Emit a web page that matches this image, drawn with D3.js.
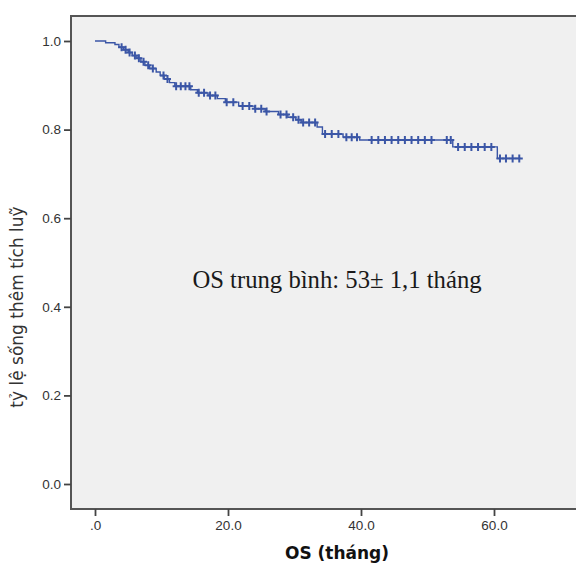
<!DOCTYPE html>
<html>
<head>
<meta charset="utf-8">
<script src="https://cdn.jsdelivr.net/npm/d3@7"></script>
<style>
  body { margin: 0; background: #fff; }
  svg { display: block; }
</style>
</head>
<body>
<svg id="chart"></svg>
<script>
// Kaplan-Meier steps (time in months, cumulative survival after the step)
const stepTimes = [0, 1.6, 3.0, 3.6, 4.3, 5.0, 5.6, 6.3, 6.9, 7.5, 8.2, 9.2, 9.8, 10.4, 11.2, 12.0,
  14.4, 15.4, 17.0, 18.4, 19.6, 21.6, 24.0, 25.6, 27.6, 29.0, 30.2, 31.0, 33.4, 34.2, 37.3, 39.8,
  53.8, 60.5];
const stepSurv = [1.0, 0.996, 0.992, 0.986, 0.98, 0.974, 0.967, 0.961, 0.953, 0.945, 0.938, 0.93,
  0.922, 0.914, 0.906, 0.898, 0.89, 0.883, 0.877, 0.87, 0.862, 0.853, 0.847, 0.841, 0.834, 0.828,
  0.822, 0.816, 0.806, 0.79, 0.783, 0.7765, 0.761, 0.735];
const endTime = 64.0;

// censored observations
const censorTimes = [4.0, 4.6, 5.2, 6.0, 6.6, 7.3, 8.0, 8.7, 10.3, 10.9, 12.2, 12.9, 13.6, 14.2,
  15.6, 16.4, 17.3, 18.1, 19.8, 20.8, 22.2, 23.2, 24.1, 25.0, 25.8, 27.9, 28.8, 29.8, 30.6, 31.3,
  32.2, 33.1, 34.6, 35.6, 36.6, 37.8, 38.6, 39.4, 41.6, 42.6, 43.6, 44.6, 45.6, 46.6, 47.6, 48.6,
  49.6, 50.6, 52.9, 53.5, 54.6, 55.6, 56.6, 57.6, 58.6, 59.6, 60.9, 61.8, 62.8, 63.8];

const xTicks = [0, 20, 40, 60];
const xTickLabels = [".0", "20.0", "40.0", "60.0"];
const yTicks = [0, 0.2, 0.4, 0.6, 0.8, 1.0];
const yTickLabels = ["0.0", "0.2", "0.4", "0.6", "0.8", "1.0"];

const xTitle = "OS (tháng)";
const yTitle = "tỷ lệ sống thêm tích luỹ";
const note = "OS trung bình: 53± 1,1 tháng";

// Dimensions
const width = 576, height = 565;
const frame = { left: 71, top: 16, bottom: 509 };
const lineColor = "#3b56a6";

const svg = d3.select("#chart").attr("width", width).attr("height", height);

// Scales
const xScale = d3.scaleLinear().domain([0, 60]).range([95, 494]);
const yScale = d3.scaleLinear().domain([0, 1]).range([484, 41]);

// plot background / frame
svg.append("rect")
  .attr("x", frame.left)
  .attr("y", frame.top)
  .attr("width", width - frame.left + 10)
  .attr("height", frame.bottom - frame.top)
  .attr("fill", "#f0f0f0")
  .attr("stroke", "#555")
  .attr("stroke-width", 2);

// Axis
const yAxis = d3.axisLeft(yScale)
  .tickValues(yTicks)
  .tickFormat((d, i) => yTickLabels[i])
  .tickSize(7)
  .tickSizeOuter(0)
  .tickPadding(3);

const gy = svg.append("g")
  .attr("transform", `translate(${frame.left},0)`)
  .call(yAxis);

const xAxis = d3.axisBottom(xScale)
  .tickValues(xTicks)
  .tickFormat((d, i) => xTickLabels[i])
  .tickSize(7)
  .tickSizeOuter(0)
  .tickPadding(4);

const gx = svg.append("g")
  .attr("transform", `translate(0,${frame.bottom})`)
  .call(xAxis);

[gx, gy].forEach((g) => {
  g.select(".domain").remove();
  g.selectAll(".tick line").attr("stroke", "#444").attr("stroke-width", 1.8);
  g.selectAll(".tick text")
    .attr("fill", "#333")
    .style("font-family", "'Liberation Sans', Arial, sans-serif")
    .style("font-size", "13.5px");
});

// KM curve
const curveData = stepTimes.map((t, i) => ({ t: t, s: stepSurv[i] }));
curveData.push({ t: endTime, s: stepSurv[stepSurv.length - 1] });

const stepLine = d3.line()
  .x((d) => xScale(d.t))
  .y((d) => yScale(d.s))
  .curve(d3.curveStepAfter);

svg.append("path")
  .datum(curveData)
  .attr("fill", "none")
  .attr("stroke", lineColor)
  .attr("stroke-width", 1.4)
  .attr("d", stepLine);

// censor marks
const survAt = (t) => stepSurv[Math.max(0, d3.bisectRight(stepTimes, t) - 1)];

svg.append("g")
  .selectAll("path")
  .data(censorTimes)
  .join("path")
  .attr("d", (t) => {
    const cx = xScale(t), cy = yScale(survAt(t));
    return `M${cx - 3.5},${cy}H${cx + 3.5}M${cx},${cy - 4}V${cy + 4}`;
  })
  .attr("stroke", lineColor)
  .attr("stroke-width", 2)
  .attr("fill", "none");

// annotation
svg.append("text")
  .attr("x", 337)
  .attr("y", 288)
  .attr("text-anchor", "middle")
  .style("font-family", "'Liberation Serif', 'Times New Roman', serif")
  .style("font-size", "24.7px")
  .attr("fill", "#1a1a1a")
  .text(note);

// axis titles
svg.append("text")
  .attr("x", 337)
  .attr("y", 559)
  .attr("text-anchor", "middle")
  .style("font-family", "'DejaVu Sans', sans-serif")
  .style("font-size", "17px")
  .style("font-weight", "bold")
  .attr("fill", "#111")
  .text(xTitle);

svg.append("text")
  .attr("transform", `translate(23,307) rotate(-90)`)
  .attr("text-anchor", "middle")
  .style("font-family", "'DejaVu Sans', sans-serif")
  .style("font-size", "17px")
  .attr("fill", "#333")
  .text(yTitle);
</script>
</body>
</html>
